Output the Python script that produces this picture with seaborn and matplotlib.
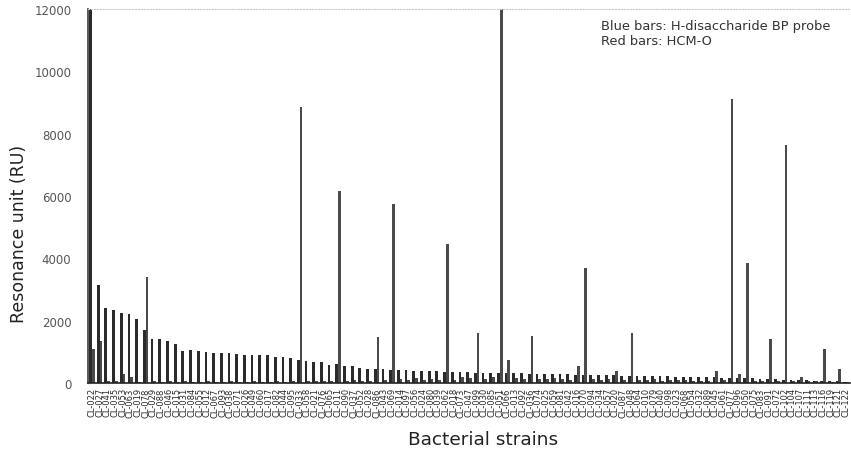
import numpy as np
import pandas as pd
import seaborn as sns
import matplotlib.pyplot as plt

# strain numbers (labels read as CL-xxx, mostly illegible in the scan)
strain_ids = [22, 27, 41, 35, 53, 63, 19, 78, 29, 88,
              46, 15, 31, 84, 55, 12, 67, 93, 38, 71,
              26, 49, 60, 17, 82, 44, 95, 33, 58, 21,
              76, 65, 11, 90, 37, 52, 28, 86, 43, 69,
              14, 97, 56, 24, 80, 39, 62, 18, 73, 47,
              99, 30, 85, 51, 66, 13, 92, 36, 74, 25,
              59, 81, 42, 16, 70, 94, 34, 57, 20, 87,
              48, 64, 10, 79, 40, 98, 23, 68, 54, 32,
              89, 45, 61, 77, 96, 50, 75, 83, 91, 72,
              102, 104, 107, 111, 113, 116, 119, 121, 122]
strains = ["CL-%03d" % n for n in strain_ids]

# H-disaccharide BP probe (blue bars)
probe_bp = [12000, 3150, 2400, 2350, 2250, 2200, 2050, 1700, 1400, 1400,
            1350, 1250, 1035, 1050, 1015, 985, 960, 965, 960, 920,
            905, 905, 900, 885, 830, 830, 800, 740, 700, 670,
            660, 580, 600, 550, 550, 490, 460, 450, 440, 430,
            420, 410, 400, 390, 380, 370, 360, 350, 345, 340,
            335, 330, 325, 320, 315, 310, 305, 300, 295, 290,
            285, 280, 275, 270, 265, 260, 255, 250, 245, 240,
            235, 230, 225, 220, 215, 210, 205, 200, 195, 190,
            185, 180, 175, 170, 165, 160, 150, 140, 130, 120,
            110, 100, 95, 90, 80, 70, 60, 50, 40]

# HCM-O (red bars)
probe_hcm = [1100, 1350, 60, 50, 300, 200, 40, 3400, 50, 40,
             60, 40, 50, 40, 40, 50, 40, 40, 50, 40,
             40, 50, 40, 40, 50, 40, 60, 8850, 60, 80,
             60, 80, 6150, 70, 90, 60, 80, 1470, 100, 5750,
             120, 90, 150, 100, 130, 90, 4450, 110, 200, 160,
             1600, 120, 180, 12000, 740, 150, 130, 1500, 140, 120,
             150, 130, 110, 550, 3700, 120, 100, 140, 380, 110,
             1600, 100, 90, 120, 80, 100, 90, 110, 80, 70,
             60, 380, 90, 9100, 290, 3850, 70, 80, 1400, 60,
             7650, 50, 190, 60, 50, 1100, 40, 450, 30]

df = pd.DataFrame({
    "strain": strains * 2,
    "probe": ["BP"] * len(strains) + ["HCM"] * len(strains),
    "value": probe_bp + probe_hcm,
})

sns.set_theme(style="white")
plt.rcParams['font.family'] = ['DejaVu Sans']

fig = plt.figure(figsize=(8.51, 4.52), dpi=100)
ax = fig.add_axes([88 / 851, 1 - 384 / 452, 762 / 851, 374 / 452])

sns.barplot(data=df, x="strain", y="value", hue="probe",
            hue_order=["BP", "HCM"], palette=["#2b2b2b", "#4a4a4a"],
            width=0.72, legend=False, ax=ax, errorbar=None,
            linewidth=0)

ax.set_ylim(0, 12000)
ax.set_xlim(-0.5, len(strains) - 0.5)
ax.set_yticks(np.arange(0, 12001, 2000))
ax.set_yticklabels([str(v) for v in range(0, 12001, 2000)],
                   fontsize=8.5, color="#555555")
ax.tick_params(axis="y", length=3, width=0.8, color="#444444", pad=9)
ax.tick_params(axis="x", length=0, pad=3)
ax.set_xticks(range(len(strains)))
ax.set_xticklabels(strains, rotation=90, fontsize=6, color="#2a2a2a")

ax.spines["right"].set_visible(False)
ax.spines["top"].set_color("#cccccc")
ax.spines["top"].set_linestyle(":")
ax.spines["top"].set_linewidth(0.8)
ax.spines["left"].set_color("#444444")
ax.spines["bottom"].set_color("#222222")
ax.spines["bottom"].set_linewidth(1.2)

ax.set_ylabel("Resonance unit (RU)", fontsize=12.5, color="#222222")
ax.yaxis.set_label_coords(-0.079, 0.40)
ax.set_xlabel("Bacterial strains", fontsize=13.3, color="#222222")
ax.xaxis.set_label_coords(0.518, -0.125)

fig.text(601 / 851, 1 - 30 / 452, "Blue bars: H-disaccharide BP probe",
         fontsize=9.4, color="#333333", va="baseline")
fig.text(601 / 851, 1 - 45 / 452, "Red bars: HCM-O",
         fontsize=9.4, color="#333333", va="baseline")

fig.savefig("out.png", dpi=100)
